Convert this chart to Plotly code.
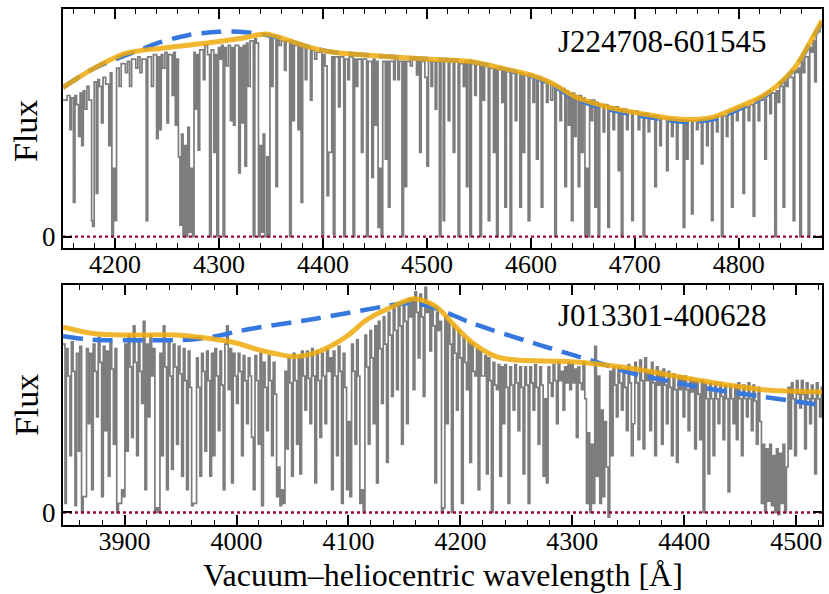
import plotly.graph_objects as go

# ---------------- J224708-601545 (upper panel) ----------------
top_wave = [
    4150, 4154, 4156.7, 4158, 4160, 4161.5, 4163, 4165, 4166.5, 4168, 4169.5, 4171, 4173, 4175,
    4177.5, 4178.5, 4180, 4182, 4183.5, 4185, 4187, 4188.5, 4191, 4194, 4195.5, 4197, 4198.5, 4200,
    4201.5, 4204, 4206, 4210, 4212, 4214, 4216, 4220, 4222, 4224, 4226, 4230, 4231.5, 4235, 4237,
    4240, 4241.5, 4243, 4244.5, 4246, 4248, 4250, 4251.5, 4255, 4256.5, 4258, 4259.5, 4261, 4262.5,
    4264, 4265.5, 4267, 4268.5, 4270, 4271.5, 4273, 4274.5, 4276, 4277, 4278.5, 4280, 4281.5, 4285,
    4286.5, 4289, 4291, 4292.5, 4295, 4296.5, 4298, 4299.5, 4301, 4302.5, 4304, 4305.5, 4307, 4309,
    4311, 4312.5, 4314, 4315.5, 4319, 4320.5, 4322, 4323.5, 4325, 4326.5, 4328, 4330, 4333, 4334.5,
    4336, 4338, 4339.5, 4341, 4342.5, 4344, 4346, 4347.5, 4349, 4350.6, 4352, 4354.8, 4356.3, 4358,
    4360, 4363, 4364.5, 4368, 4369.5, 4371, 4372.5, 4376, 4377.5, 4379, 4380.5, 4383, 4384.5, 4388,
    4389.5, 4392, 4394, 4399, 4400.5, 4402, 4404, 4405.5, 4407, 4408.5, 4410, 4411.5, 4415, 4416.5,
    4420, 4421.5, 4424, 4425.5, 4429, 4430.5, 4432, 4433.5, 4437, 4438.5, 4442, 4443.5, 4447, 4448.5,
    4450, 4451.5, 4453, 4454.5, 4456, 4457.5, 4460, 4461.5, 4463, 4464.5, 4468, 4469.5, 4472, 4473.5,
    4476, 4477.5, 4479, 4480.5, 4484, 4486, 4490, 4491.5, 4493, 4494.5, 4498, 4500, 4501.5, 4504,
    4505.5, 4508, 4509.5, 4512, 4513.5, 4515.7, 4517, 4520.5, 4522, 4525.3, 4526.8, 4530, 4531.5,
    4535, 4536.5, 4538, 4539.5, 4541.3, 4542.8, 4546, 4547.5, 4551, 4552.5, 4554, 4555.5, 4559,
    4560.5, 4564, 4565.5, 4567, 4568.5, 4572, 4573.5, 4575, 4576.5, 4580, 4581.5, 4585, 4586.5,
    4589.4, 4590.9, 4592.6, 4594, 4597.4, 4599, 4602, 4603.5, 4605.4, 4607, 4610, 4611.5, 4615,
    4616.5, 4619, 4621, 4623, 4624.5, 4628, 4629.5, 4632.7, 4634.2, 4636, 4637.5, 4639, 4640.5,
    4642, 4643.5, 4645.5, 4647, 4648.7, 4650.2, 4652, 4653.5, 4655, 4656.5, 4658, 4659.5, 4661.5,
    4663, 4664.7, 4666.2, 4669.5, 4671, 4674, 4675.5, 4679, 4680.5, 4684, 4685.5, 4687, 4688.5,
    4692, 4693.5, 4697, 4698.5, 4703.2, 4704.7, 4708, 4709.5, 4712.8, 4714.3, 4719.2, 4720.7, 4724,
    4725.5, 4730.5, 4732, 4735.3, 4736.8, 4740, 4741.5, 4746.5, 4748, 4749.7, 4751.2, 4754.5, 4756,
    4759.3, 4760.8, 4764, 4765.5, 4769, 4770.5, 4773.7, 4775.2, 4778.5, 4780, 4783.3, 4784.8, 4788,
    4789.5, 4793, 4794.5, 4797.8, 4799.3, 4804, 4805.5, 4809, 4810.5, 4813.8, 4815.3, 4818.6,
    4820.1, 4825, 4826.5, 4829.8, 4831.3, 4834.6, 4836.1, 4837.8, 4839.3, 4842.6, 4844.1, 4845.8,
    4847.3, 4852.3, 4853.8, 4855.5, 4857, 4858.7, 4860.2, 4861.9, 4863.4, 4866.7, 4868.2, 4869.9,
    4871.4, 4873, 4874.5, 4878, 4880,
]
top_flux = [
    0.60, 0.62, 0.47, 0.61, 0.15, 0.62, 0.58, 0.44, 0.63, 0.40, 0.64, 0.56, 0.66, 0.60,
    0.07, 0.045, 0.68, 0.19, 0.69, 0.66, 0.50, 0.70, 0.67, 0.40, 0.72, 0.00, 0.30, 0.07,
    0.74, 0.66, 0.76, 0.72, 0.77, 0.66, 0.78, 0.74, 0.79, 0.72, 0.78, 0.07, 0.79, 0.66, 0.80,
    0.43, 0.79, 0.47, 0.80, 0.74, 0.81, 0.50, 0.80, 0.62, 0.81, 0.49, 0.78, 0.35, 0.05,
    0.45, 0.00, 0.40, 0.00, 0.48, 0.02, 0.30, 0.00, 0.81, 0.56, 0.80, 0.38, 0.82, 0.69,
    0.84, 0.80, 0.00, 0.82, 0.37, 0.80, 0.00, 0.83, 0.78, 0.84, 0.00, 0.83, 0.75, 0.84,
    0.51, 0.83, 0.49, 0.84, 0.28, 0.83, 0.50, 0.84, 0.31, 0.85, 0.66, 0.86, 0.00, 0.87,
    0.85, 0.00, 0.40, 0.02, 0.45, 0.00, 0.35, 0.00, 0.88, 0.66, 0.88, 0.22, 0.87, 0.84,
    0.86, 0.73, 0.86, 0.00, 0.85, 0.51, 0.84, 0.47, 0.84, 0.15, 0.83, 0.69, 0.83, 0.60,
    0.82, 0.78, 0.81, 0.00, 0.80, 0.75, 0.18, 0.37, 0.37, 0.79, 0.01, 0.79, 0.57, 0.79,
    0.00, 0.78, 0.69, 0.79, 0.00, 0.78, 0.66, 0.78, 0.37, 0.78, 0.00, 0.77, 0.26, 0.78,
    0.49, 0.77, 0.04, 0.30, 0.00, 0.77, 0.34, 0.77, 0.13, 0.77, 0.69, 0.78, 0.69, 0.77,
    0.00, 0.77, 0.22, 0.77, 0.75, 0.78, 0.71, 0.77, 0.37, 0.77, 0.70, 0.31, 0.77, 0.66,
    0.77, 0.56, 0.77, 0.00, 0.78, 0.07, 0.78, 0.51, 0.77, 0.37, 0.77, 0.00, 0.76,
    0.66, 0.77, 0.22, 0.76, 0.00, 0.76, 0.62, 0.76, 0.00, 0.75, 0.60, 0.75, 0.07,
    0.74, 0.37, 0.74, 0.00, 0.74, 0.59, 0.73, 0.13, 0.73, 0.00, 0.72, 0.51, 0.72,
    0.13, 0.72, 0.37, 0.71, 0.07, 0.71, 0.59, 0.70, 0.34, 0.70, 0.13, 0.69, 0.59,
    0.68, 0.60, 0.67, 0.00, 0.66, 0.51, 0.65, 0.22, 0.64, 0.49, 0.63, 0.07, 0.63,
    0.44, 0.62, 0.22, 0.62, 0.37, 0.61, 0.00, 0.30, 0.00, 0.60, 0.51, 0.60, 0.13,
    0.59, 0.00, 0.58, 0.46, 0.58, 0.04, 0.57, 0.47, 0.57, 0.29, 0.56, 0.00, 0.56,
    0.47, 0.55, 0.07, 0.55, 0.47, 0.54, 0.00, 0.54, 0.46, 0.53, 0.22, 0.53, 0.40,
    0.52, 0.29, 0.52, 0.44, 0.51, 0.34, 0.51, 0.04, 0.50, 0.34, 0.51, 0.10, 0.51,
    0.47, 0.51, 0.32, 0.51, 0.40, 0.52, 0.07, 0.52, 0.46, 0.53, 0.00, 0.53, 0.44,
    0.54, 0.13, 0.55, 0.51, 0.56, 0.19, 0.57, 0.51, 0.58, 0.09, 0.59, 0.51,
    0.60, 0.34, 0.62, 0.54, 0.63, 0.00, 0.64, 0.59, 0.66, 0.13, 0.68, 0.66,
    0.70, 0.07, 0.73, 0.72, 0.74, 0.00, 0.77, 0.72, 0.79, 0.00, 0.83, 0.81,
    0.86, 0.68, 0.90, 0.93, 0.93,
]

# continuum fits, upper panel
top_fit_wave = [4150, 4180, 4210, 4245, 4285, 4320, 4345, 4365, 4385, 4410, 4450, 4500, 4540,
                4575, 4600, 4620, 4640, 4665, 4700, 4746, 4775, 4800, 4820, 4836, 4855, 4868, 4880]
top_fit_flux = [0.655, 0.74, 0.805, 0.828, 0.848, 0.87, 0.89, 0.865, 0.835, 0.81, 0.795, 0.78, 0.77,
                0.737, 0.71, 0.675, 0.62, 0.58, 0.545, 0.515, 0.525, 0.57, 0.61, 0.66, 0.75, 0.85, 0.95]
top_cont_wave = [4150, 4180, 4221, 4243, 4270, 4300, 4320, 4340, 4360, 4385, 4410, 4450, 4500, 4540,
                 4575, 4600, 4620, 4640, 4665, 4700, 4746, 4775, 4800, 4820, 4836, 4855, 4868, 4880]
top_cont_flux = [0.655, 0.74, 0.815, 0.853, 0.885, 0.90, 0.90, 0.89, 0.87, 0.835, 0.81, 0.795, 0.78,
                 0.77, 0.735, 0.705, 0.668, 0.612, 0.57, 0.535, 0.505, 0.515, 0.56, 0.603, 0.655,
                 0.745, 0.845, 0.94]

# ---------------- J013301-400628 (lower panel) ----------------
bot_wave = [
    3845, 3846.8, 3848, 3849.5, 3851.2, 3852.5, 3854, 3855.7, 3857, 3858.7, 3860, 3861.6, 3863,
    3864.6, 3866, 3867.6, 3869, 3870.6, 3872, 3873.5, 3875, 3876.5, 3878, 3879.5, 3881, 3882.5,
    3884, 3885.5, 3887, 3888.5, 3890, 3891.5, 3893, 3894.5, 3895.9, 3897.4, 3898.9, 3900.3, 3901.8,
    3903.3, 3904.8, 3906.3, 3907.8, 3909.3, 3910.8, 3912.3, 3913.7, 3915.2, 3916.7, 3918.2, 3919.7,
    3921.2, 3922.7, 3924.2, 3925.6, 3927.1, 3928.6, 3930.1, 3931.6, 3933.1, 3934.6, 3936, 3937.5,
    3939, 3940.5, 3942, 3943.5, 3945, 3946.5, 3948, 3949.5, 3951, 3952.5, 3954, 3955.4, 3956.9,
    3958.4, 3959.9, 3961.4, 3962.8, 3964.3, 3965.8, 3967.3, 3968.8, 3970.3, 3971.8, 3973.3, 3974.7,
    3976.2, 3977.7, 3979.2, 3980.7, 3982.2, 3983.7, 3985.2, 3986.6, 3988.1, 3989.6, 3991.1, 3992.6,
    3994.1, 3995.6, 3997.1, 3998.6, 4000, 4001.5, 4003, 4004.5, 4006, 4007.5, 4009, 4010.5, 4012,
    4013.4, 4015, 4016.5, 4018, 4019.4, 4021, 4022.4, 4024, 4025.5, 4026.9, 4028.4, 4029.9, 4031.3,
    4032.8, 4034.3, 4035.8, 4037.3, 4038.8, 4040.3, 4041.8, 4043.3, 4044.7, 4046.2, 4047.7, 4049.2,
    4050.7, 4052.2, 4053.7, 4055.2, 4056.6, 4058.1, 4059.6, 4061.1, 4062.6, 4064.1, 4065.6, 4067.1,
    4068.5, 4070, 4071.5, 4073, 4074.5, 4076, 4077.5, 4079, 4080.5, 4082, 4083.5, 4084.9, 4086.4,
    4087.9, 4089.4, 4090.9, 4092.4, 4093.8, 4095.3, 4096.8, 4098.3, 4099.8, 4101.3, 4102.8, 4104.3,
    4105.8, 4107.3, 4108.7, 4110.2, 4111.7, 4113.2, 4114.7, 4116.2, 4117.7, 4119.2, 4120.6, 4122.1,
    4123.6, 4125.1, 4126.6, 4128.1, 4129.6, 4131.1, 4132.5, 4134, 4135.5, 4137, 4138.5, 4140,
    4141.5, 4143, 4144.5, 4146, 4147.4, 4148.9, 4150.4, 4151.9, 4153.4, 4154.9, 4156.4, 4157.8,
    4159.3, 4160.8, 4162.3, 4163.8, 4165.3, 4166.8, 4168.3, 4169.8, 4171.2, 4172.7, 4174.2, 4175.7,
    4177.2, 4178.7, 4180.2, 4181.6, 4183.1, 4184.6, 4186.1, 4187.6, 4189.1, 4190.6, 4192, 4193.5,
    4195, 4196.5, 4198, 4199.5, 4201, 4202.5, 4204, 4205.4, 4206.9, 4208.4, 4209.9, 4211.4, 4212.9,
    4214.4, 4215.8, 4217.3, 4218.8, 4220.3, 4221.8, 4223.3, 4224.8, 4226.3, 4227.7, 4229.2, 4230.7,
    4232.2, 4233.7, 4235.2, 4236.7, 4238.1, 4239.6, 4241.1, 4242.6, 4244.1, 4245.6, 4247.1, 4248.6,
    4250, 4251.5, 4253, 4254.5, 4256, 4257.5, 4259, 4260.5, 4262, 4263.5, 4264.9, 4266.4, 4267.9,
    4269.4, 4270.9, 4272.4, 4273.9, 4275.4, 4276.8, 4278.3, 4279.8, 4281.3, 4282.8, 4284.3, 4285.8,
    4287.3, 4288.8, 4290.2, 4291.7, 4293.2, 4294.7, 4296.2, 4297.7, 4299.2, 4300.7, 4302.1, 4303.6,
    4305.1, 4306.6, 4308.1, 4309.6, 4311.1, 4312.6, 4314.1, 4315.5, 4317, 4318.5, 4320, 4321.5,
    4323, 4324.5, 4326, 4327.5, 4328.9, 4330.4, 4331.9, 4333.4, 4334.9, 4336.4, 4337.9, 4339.3,
    4340.8, 4342.3, 4343.8, 4345.3, 4346.8, 4348.3, 4349.8, 4351.3, 4352.7, 4354.3, 4355.8, 4357.2,
    4358.7, 4360.2, 4361.7, 4363.2, 4364.7, 4366.2, 4367.7, 4369.2, 4370.7, 4372.1, 4373.6, 4375.1,
    4376.6, 4378.1, 4379.6, 4381.1, 4382.5, 4384, 4385.5, 4387, 4388.5, 4390, 4391.5, 4393, 4394.5,
    4396, 4397.4, 4398.9, 4400.4, 4401.9, 4403.4, 4404.9, 4406.4, 4407.8, 4409.3, 4410.8, 4412.3,
    4413.8, 4415.3, 4416.8, 4418.3, 4419.8, 4421.2, 4422.7, 4424.2, 4425.7, 4427.2, 4428.7, 4430.2,
    4431.7, 4433.1, 4434.6, 4436.1, 4437.6, 4439.1, 4440.6, 4442.1, 4443.6, 4445.1, 4446.5, 4448,
    4449.5, 4451, 4452.5, 4454, 4455.5, 4457, 4458.5, 4459.9, 4461.4, 4462.9, 4464.4, 4465.9,
    4467.4, 4468.9, 4470.4, 4471.8, 4473.3, 4474.8, 4476.3, 4477.8, 4479.3, 4480.8, 4482.3, 4483.7,
    4485.2, 4486.7, 4488.2, 4489.7, 4491.2, 4492.7, 4494.2, 4495.7, 4497.1, 4498.6, 4500.1, 4501.6,
    4503.1, 4504.6, 4506.1, 4507.5, 4509, 4510.5, 4512, 4513.5, 4515, 4516.5, 4518, 4519.5, 4520.9,
    4522.4, 4523,
]
bot_flux = [
    0.74, 0.04, 0.72, 0.60, 0.25, 0.75, 0.62, 0.03, 0.70, 0.27, 0.73, 0.00, 0.07,
    0.07, 0.72, 0.39, 0.70, 0.10, 0.74, 0.62, 0.42, 0.77, 0.66, 0.07, 0.73, 0.36,
    0.71, 0.16, 0.75, 0.63, 0.30, 0.72, 0.00, 0.04, 0.04, 0.10, 0.07, 0.74, 0.27,
    0.78, 0.64, 0.33, 0.82, 0.66, 0.25, 0.76, 0.62, 0.48, 0.84, 0.10, 0.74,
    0.42, 0.78, 0.60, 0.72, 0.00, 0.02, 0.00, 0.70, 0.25, 0.82, 0.64, 0.10,
    0.76, 0.60, 0.19, 0.74, 0.64, 0.30, 0.73, 0.61, 0.16, 0.72, 0.58, 0.10, 0.71,
    0.55, 0.03, 0.04, 0.04, 0.68, 0.55, 0.16, 0.70, 0.62, 0.27, 0.71, 0.58,
    0.16, 0.70, 0.25, 0.72, 0.60, 0.36, 0.71, 0.56, 0.10, 0.74, 0.82, 0.54,
    0.72, 0.13, 0.70, 0.60, 0.48, 0.70, 0.62, 0.25, 0.69, 0.58, 0.39, 0.68, 0.60,
    0.33, 0.10, 0.69, 0.58, 0.30, 0.70, 0.03, 0.66, 0.55, 0.36, 0.69, 0.58, 0.25,
    0.66, 0.52, 0.07, 0.20, 0.03, 0.10, 0.04, 0.62, 0.28, 0.68, 0.57, 0.16,
    0.70, 0.58, 0.30, 0.69, 0.17, 0.71, 0.60, 0.45, 0.71, 0.59, 0.39, 0.72,
    0.60, 0.13, 0.71, 0.58, 0.33, 0.70, 0.60, 0.39, 0.72, 0.62, 0.68, 0.10, 0.71,
    0.60, 0.25, 0.73, 0.62, 0.04, 0.70, 0.55, 0.10, 0.40, 0.07, 0.74, 0.62,
    0.30, 0.76, 0.60, 0.04, 0.10, 0.00, 0.78, 0.64, 0.30, 0.80, 0.68, 0.39,
    0.82, 0.13, 0.84, 0.72, 0.48, 0.86, 0.74, 0.22, 0.88, 0.78, 0.51, 0.90,
    0.80, 0.54, 0.91, 0.82, 0.30, 0.92, 0.84, 0.39, 0.94, 0.86, 0.94, 0.54,
    0.97, 0.88, 0.68, 0.96, 0.86, 0.51, 0.99, 0.88, 0.92, 0.71, 0.90, 0.82,
    0.13, 0.88, 0.80, 0.84, 0.00, 0.02, 0.86, 0.39, 0.84, 0.74, 0.00, 0.82,
    0.70, 0.45, 0.80, 0.68, 0.04, 0.77, 0.66, 0.54, 0.75, 0.22, 0.74, 0.62, 0.60,
    0.72, 0.10, 0.71, 0.60, 0.60, 0.69, 0.17, 0.68, 0.58, 0.00, 0.66, 0.56,
    0.54, 0.65, 0.16, 0.64, 0.39, 0.65, 0.55, 0.04, 0.64, 0.56, 0.45, 0.65,
    0.57, 0.36, 0.64, 0.55, 0.17, 0.64, 0.56, 0.04, 0.64, 0.57, 0.45, 0.65, 0.55,
    0.30, 0.64, 0.56, 0.16, 0.50, 0.13, 0.64, 0.57, 0.51, 0.65, 0.58, 0.39,
    0.66, 0.58, 0.62, 0.45, 0.64, 0.57, 0.66, 0.54, 0.65, 0.57, 0.63, 0.33,
    0.64, 0.57, 0.54, 0.66, 0.50, 0.04, 0.35, 0.00, 0.30, 0.04, 0.73, 0.16,
    0.60, 0.04, 0.45, 0.07, 0.40, 0.20, -0.02, 0.62, 0.25, 0.64, 0.56, 0.42,
    0.64, 0.57, 0.45, 0.63, 0.55, 0.36, 0.65, 0.57, 0.25, 0.39, 0.66, 0.57,
    0.32, 0.67, 0.58, 0.28, 0.68, 0.58, 0.62, 0.36, 0.66, 0.57, 0.25, 0.64,
    0.56, 0.62, 0.30, 0.63, 0.56, 0.39, 0.62, 0.55, 0.25, 0.61, 0.54, 0.22, 0.60,
    0.54, 0.60, 0.42, 0.60, 0.54, 0.36, 0.59, 0.53, 0.58, 0.28, 0.58, 0.52,
    0.32, 0.58, 0.00, 0.57, 0.50, 0.17, 0.57, 0.50, 0.25, 0.57, 0.50, 0.39,
    0.57, 0.51, 0.32, 0.56, 0.50, 0.09, 0.56, 0.50, 0.39, 0.56, 0.32, 0.57,
    0.50, 0.25, 0.56, 0.50, 0.42, 0.57, 0.50, 0.36, 0.56, 0.49, 0.30, 0.55,
    0.40, 0.04, 0.30, 0.00, 0.28, 0.05, 0.30, 0.03, 0.25, 0.00, 0.28, -0.01,
    0.26, 0.04, 0.30, 0.00, 0.20, 0.55, 0.28, 0.57, 0.50, 0.25, 0.58, 0.52,
    0.46, 0.58, 0.52, 0.28, 0.57, 0.50, 0.39, 0.56, 0.50, 0.17, 0.57, 0.50, 0.42,
    0.55, 0.55,
]

# continuum fits, lower panel
bot_fit_wave = [3845, 3872, 3900, 3946, 3976, 4000, 4016, 4035, 4051, 4068, 4086, 4100, 4116, 4137,
                4158, 4173, 4182, 4196, 4211, 4232, 4250, 4300, 4351, 4411, 4470, 4523]
bot_fit_flux = [0.815, 0.787, 0.78, 0.78, 0.765, 0.745, 0.72, 0.698, 0.685, 0.698, 0.736, 0.78,
                0.846, 0.90, 0.94, 0.92, 0.89, 0.815, 0.745, 0.685, 0.67, 0.663, 0.635, 0.583,
                0.54, 0.53]
bot_cont_wave = [3845, 3870, 3920, 3960, 3982, 4000, 4016, 4072, 4131, 4152, 4165, 4182, 4211,
                 4271, 4301, 4330, 4351, 4411, 4470, 4523]
bot_cont_flux = [0.775, 0.76, 0.757, 0.76, 0.775, 0.795, 0.81, 0.853, 0.905, 0.92, 0.915, 0.89,
                 0.831, 0.736, 0.692, 0.648, 0.615, 0.553, 0.509, 0.472]

labels = ["J224708-601545", "J013301-400628"]
top_ticks = [4200, 4300, 4400, 4500, 4600, 4700, 4800]
bot_ticks = [3900, 4000, 4100, 4200, 4300, 4400, 4500]

SERIF = "Liberation Serif"
GRAY = "rgb(125,125,125)"
BLUE = "rgb(55,120,222)"
ORANGE = "rgba(240,170,12,0.85)"
ZERO = "rgb(150,10,45)"

fig = go.Figure()

panels = [
    (top_wave, top_flux, top_cont_wave, top_cont_flux, top_fit_wave, top_fit_flux, "x", "y"),
    (bot_wave, bot_flux, bot_cont_wave, bot_cont_flux, bot_fit_wave, bot_fit_flux, "x2", "y2"),
]
for wv, fl, cw, cf, fw, ff, xa, ya in panels:
    fig.add_trace(go.Scatter(x=wv, y=fl, mode="lines", line=dict(color=GRAY, width=1.7, shape="hv"),
                             xaxis=xa, yaxis=ya, showlegend=False, hoverinfo="skip"))
    fig.add_trace(go.Scatter(x=[wv[0], wv[-1]], y=[0, 0], mode="lines",
                             line=dict(color=ZERO, width=2.4, dash="dot"),
                             xaxis=xa, yaxis=ya, showlegend=False, hoverinfo="skip"))
    fig.add_trace(go.Scatter(x=cw, y=cf, mode="lines",
                             line=dict(color=BLUE, width=4.5, dash="20px,10px", shape="spline", smoothing=0.8),
                             xaxis=xa, yaxis=ya, showlegend=False, hoverinfo="skip"))
    fig.add_trace(go.Scatter(x=fw, y=ff, mode="lines",
                             line=dict(color=ORANGE, width=5, shape="spline", smoothing=0.8),
                             xaxis=xa, yaxis=ya, showlegend=False, hoverinfo="skip"))

xcommon = dict(showline=True, linecolor="black", linewidth=2, mirror="allticks",
               ticks="inside", ticklen=10, tickwidth=1.6, tickcolor="black",
               minor=dict(dtick=20, ticks="inside", ticklen=5, tickwidth=1.2, tickcolor="black"),
               showgrid=False, zeroline=False, ticklabelstandoff=-8,
               tickfont=dict(family=SERIF, size=26, color="black"))
ycommon = dict(showline=True, linecolor="black", linewidth=2, mirror="allticks",
               ticks="inside", ticklen=9, tickwidth=1.6, tickcolor="black",
               tickvals=[0], ticktext=["0"], showgrid=False, zeroline=False,
               tickfont=dict(family=SERIF, size=27, color="black"))

fig.update_layout(
    width=829, height=594,
    margin=dict(l=63, r=5, t=9, b=69),
    paper_bgcolor="white", plot_bgcolor="white",
    xaxis=dict(domain=[0, 1], anchor="y", range=[4150, 4880], tickvals=top_ticks, **xcommon),
    yaxis=dict(domain=[0.5368, 1.0], anchor="x", range=[-0.05, 1.0], **ycommon),
    xaxis2=dict(domain=[0, 1], anchor="y2", range=[3845, 4523], tickvals=bot_ticks, **xcommon),
    yaxis2=dict(domain=[0.0, 0.4651], anchor="x2", range=[-0.055, 1.0], **ycommon),
)

annots = [
    dict(text=labels[0], xref="x domain", yref="y domain", x=0.929, y=0.862,
         xanchor="right", yanchor="middle", showarrow=False,
         font=dict(family=SERIF, size=31, color="black")),
    dict(text=labels[1], xref="x2 domain", yref="y2 domain", x=0.929, y=0.871,
         xanchor="right", yanchor="middle", showarrow=False,
         font=dict(family=SERIF, size=31, color="black")),
    dict(text="Flux", xref="paper", yref="y domain", x=-0.0486, y=0.49,
         xanchor="center", yanchor="middle", textangle=-90, showarrow=False,
         font=dict(family=SERIF, size=34, color="black")),
    dict(text="Flux", xref="paper", yref="y2 domain", x=-0.0486, y=0.5,
         xanchor="center", yanchor="middle", textangle=-90, showarrow=False,
         font=dict(family=SERIF, size=34, color="black")),
    dict(text="Vacuum\u2013heliocentric wavelength [\u00c5]", xref="paper", yref="paper",
         x=0.5, y=-0.097, xanchor="center", yanchor="middle", showarrow=False,
         font=dict(family=SERIF, size=32, color="black")),
]
fig.update_layout(annotations=annots)

fig.write_html("out.html")
